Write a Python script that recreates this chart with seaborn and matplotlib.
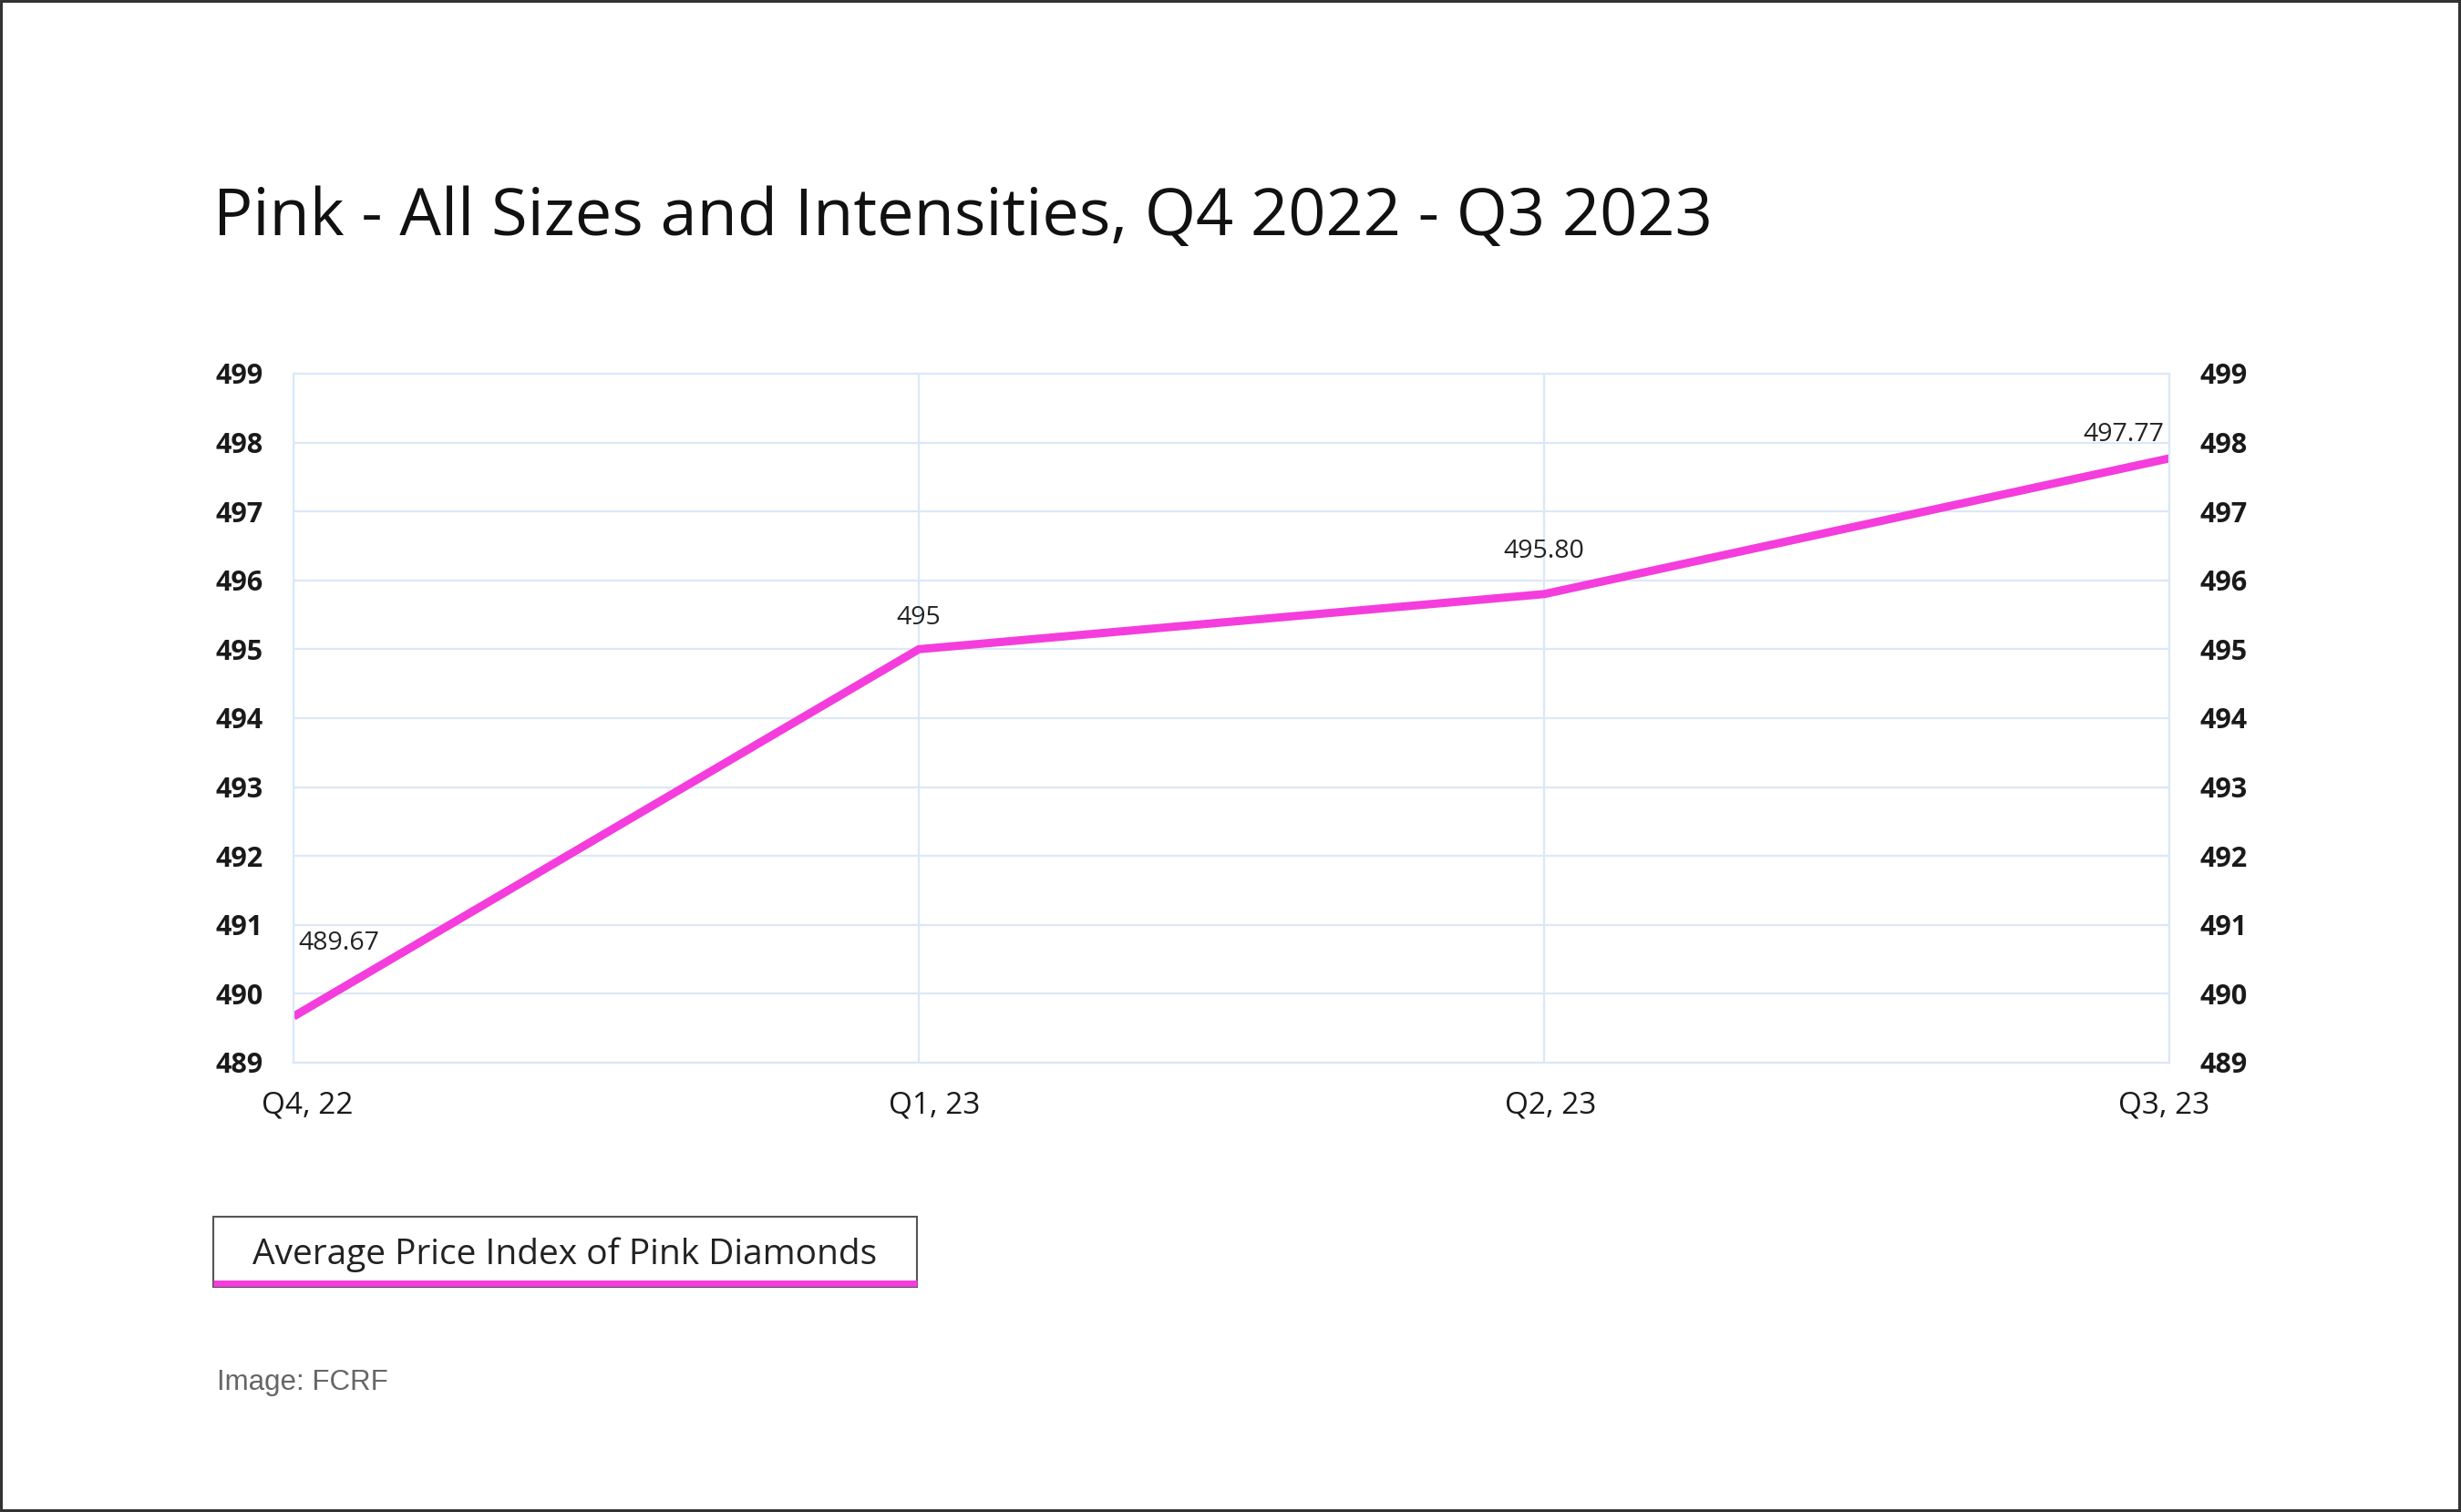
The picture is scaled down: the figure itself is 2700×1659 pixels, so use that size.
import matplotlib
matplotlib.use('Agg')
import matplotlib.pyplot as plt
import matplotlib.transforms as mtrans
import seaborn as sns
import pandas as pd
from matplotlib.patches import Rectangle
from matplotlib.lines import Line2D

# --- Дані з графіка ---
quarters = ['Q4, 22', 'Q1, 23', 'Q2, 23', 'Q3, 23']
price_index = [489.67, 495.0, 495.80, 497.77]
value_labels = ['489.67', '495', '495.80', '497.77']
y_ticks = list(range(489, 500))

title = 'Pink - All Sizes and Intensities, Q4 2022 - Q3 2023'
legend_label = 'Average Price Index of Pink Diamonds'
credit = 'Image: FCRF'

PINK = '#f43ddc'
GRID = '#dbe8f7'

df = pd.DataFrame({'pos': range(len(quarters)), 'value': price_index})

sns.set_style('white')
plt.rcParams['font.family'] = ['Open Sans', 'DejaVu Sans']

fig = plt.figure(figsize=(27, 16.59), dpi=100)
ax = fig.add_axes([0.1193, 0.2972, 0.7622, 0.4557])

sns.lineplot(data=df, x='pos', y='value', ax=ax, color=PINK, linewidth=6.5,
             solid_capstyle='butt', solid_joinstyle='miter')

ax.set_xlim(0, len(quarters) - 1)
ax.set_ylim(y_ticks[0], y_ticks[-1])
ax.set_yticks(y_ticks)
ax.set_xticks(df['pos'])
ax.set_xticklabels(quarters)
ax.set_xlabel('')
ax.set_ylabel('')
ax.grid(True, color=GRID, linewidth=1.6)
for s in ax.spines.values():
    s.set_color(GRID)
    s.set_linewidth(1.6)
ax.tick_params(axis='y', length=0, pad=24, labelsize=22, labelcolor='#1a1a1a')
ax.tick_params(axis='x', length=0, pad=22, labelsize=24, labelcolor='#1a1a1a')
for t in ax.get_yticklabels():
    t.set_fontweight('bold')

# невеликий зсув підписів кварталів, як в оригіналі
x_shift = [11, 12, 5, -4]
for t, dx in zip(ax.get_xticklabels(), x_shift):
    t.set_transform(t.get_transform() + mtrans.ScaledTranslation(dx / 72, 0, fig.dpi_scale_trans))

# права вісь з тими самими значеннями
ax2 = ax.twinx()
ax2.set_ylim(ax.get_ylim())
ax2.set_yticks(y_ticks)
ax2.tick_params(axis='y', length=0, pad=24, labelsize=22, labelcolor='#1a1a1a')
for t in ax2.get_yticklabels():
    t.set_fontweight('bold')
for s in ax2.spines.values():
    s.set_visible(False)

# підписи значень
offsets = [(4, 58), (0, 25), (0, 34), (-4, 19)]
aligns = ['left', 'center', 'center', 'right']
for i, (v, lab) in enumerate(zip(price_index, value_labels)):
    ax.annotate(lab, (i, v), xytext=offsets[i], textcoords='offset points',
                ha=aligns[i], va='center', fontsize=20.5, color='#222222')

fig.text(0.0867, 0.856, title, fontsize=52, fontweight='medium',
         color='#111111', va='center', ha='left')

# легенда у вигляді рамки з рожевою лінією знизу
lx0, lx1 = 234 / 2700, 1006 / 2700
ly0, ly1 = 1 - 1412 / 1659, 1 - 1335 / 1659
fig.patches.append(Rectangle((lx0, ly0), lx1 - lx0, ly1 - ly0, transform=fig.transFigure,
                             facecolor='white', edgecolor='#555555', linewidth=1.5))
fig.lines.append(Line2D([lx0, lx1], [ly0 + 4 / 1659, ly0 + 4 / 1659], transform=fig.transFigure,
                        color=PINK, linewidth=5, solid_capstyle='butt'))
fig.text((lx0 + lx1) / 2, 1 - 1377 / 1659, legend_label, fontsize=28,
         color='#222222', ha='center', va='center')

fig.text(238 / 2700, 1 - 1517 / 1659, credit, fontsize=22.5, color='#666666',
         family=['Liberation Sans', 'DejaVu Sans'], ha='left', va='center')

# рамка всього зображення
fig.patches.append(Rectangle((0.0005, 0.0008), 0.999, 0.9984, transform=fig.transFigure,
                             facecolor='none', edgecolor='#333333', linewidth=3))

fig.savefig('out.png', dpi=100)
plt.close(fig)
